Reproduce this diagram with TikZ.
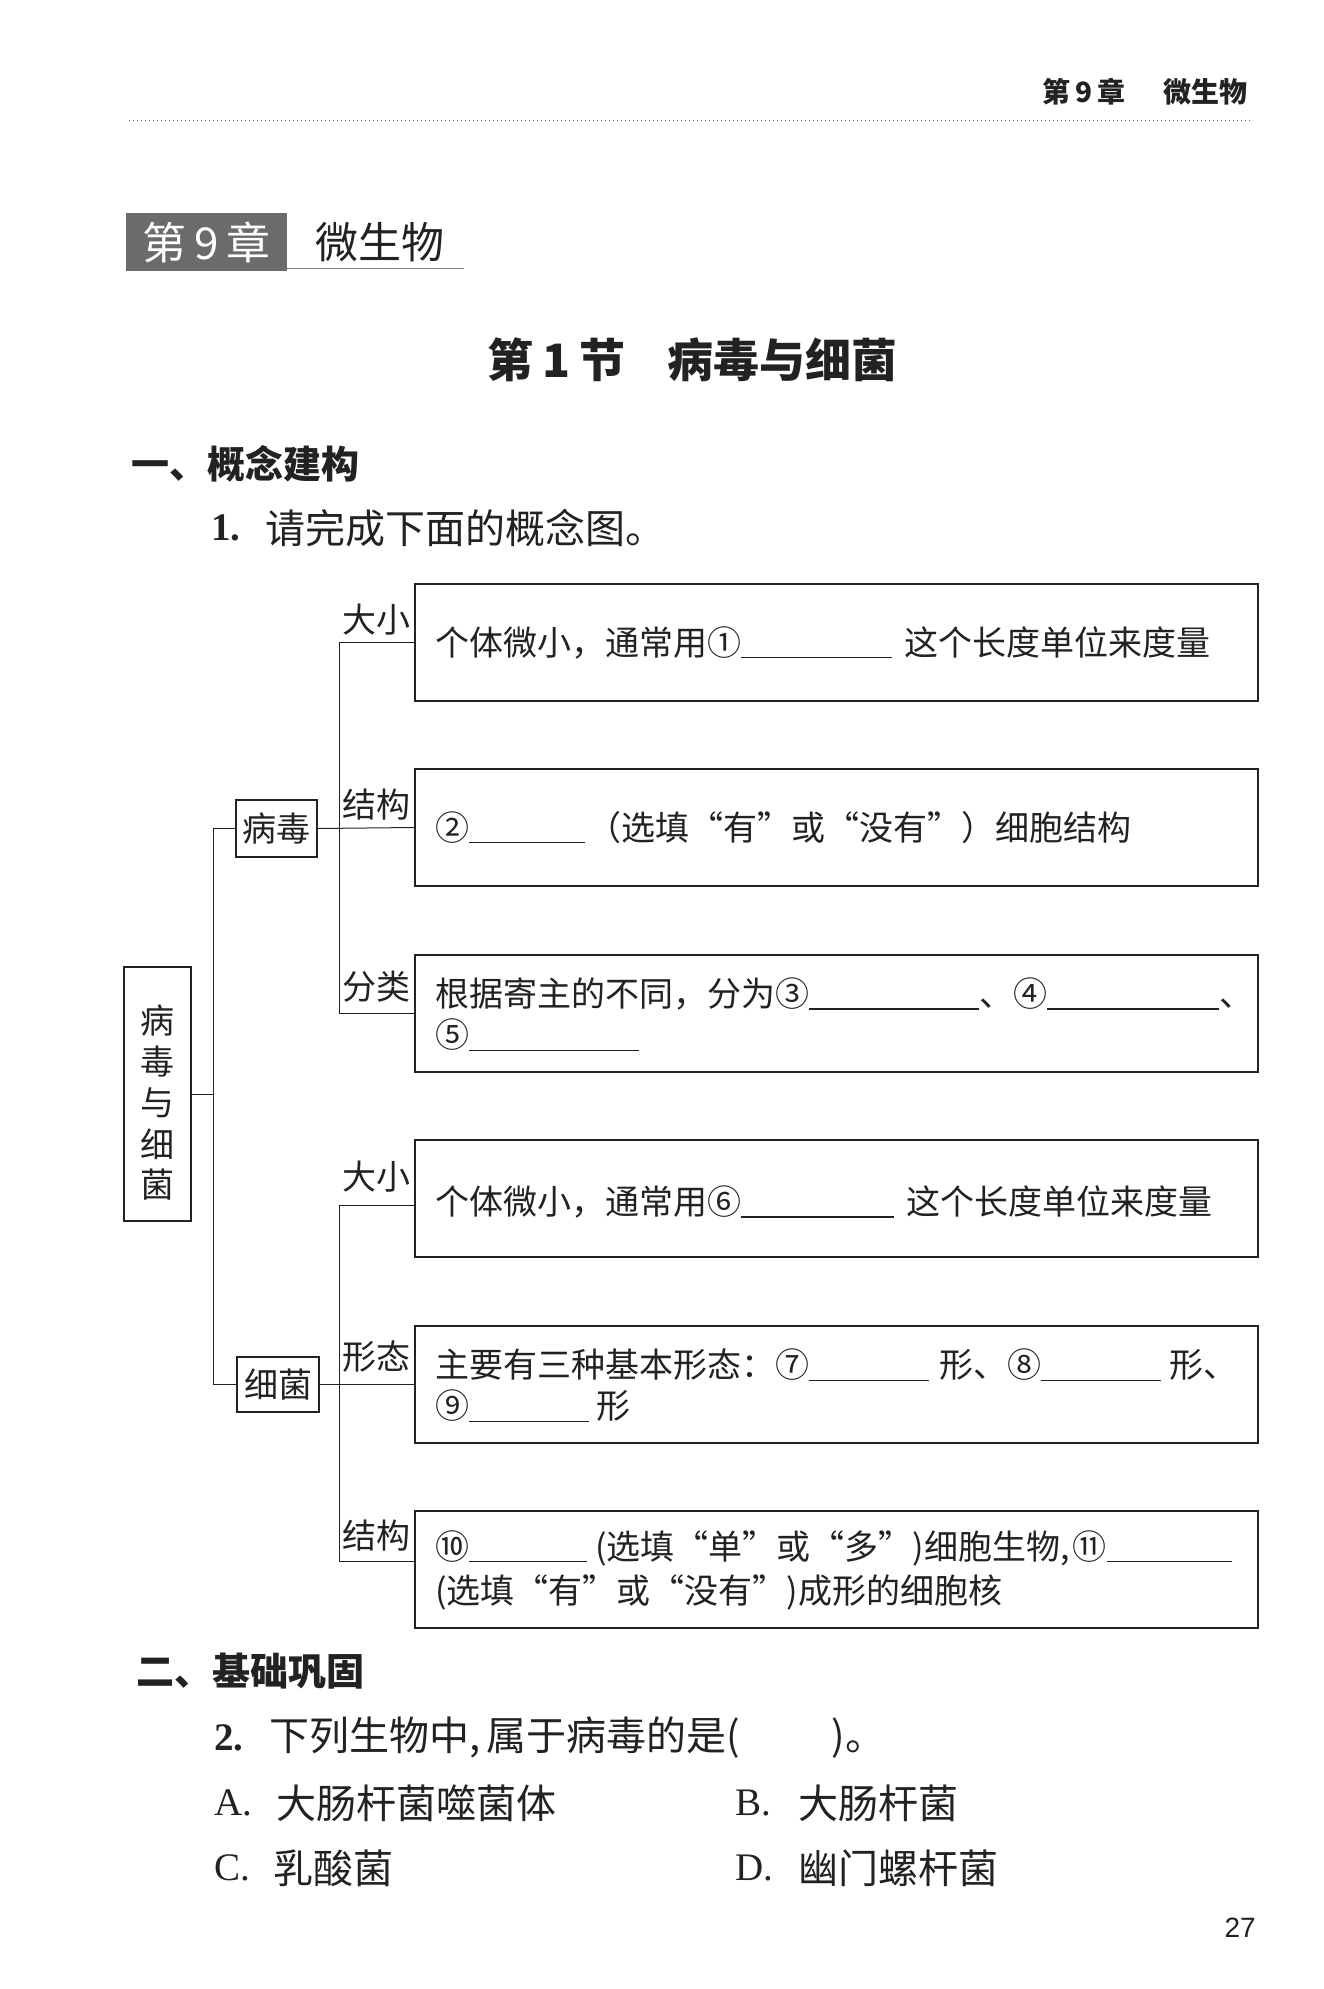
\documentclass[tikz,border=0pt]{standalone}
\usepackage{fontspec}
\setmainfont{Liberation Serif}
\newfontfamily\cjk{Noto Sans CJK SC}
\newfontfamily\numsans{Liberation Sans}
\usetikzlibrary{positioning,calc}
\definecolor{ink}{HTML}{222222}
\definecolor{chapgray}{HTML}{6B6B6B}
\newcommand{\fillin}[1]{\rule[-3pt]{#1pt}{1.2pt}}
\newcommand{\fs}[1]{\fontsize{#1}{#1}\selectfont}

\begin{document}
\begin{tikzpicture}[x=1pt,y=-1pt,
  fillbox/.style={draw=ink,line width=1.6pt,minimum width=843pt,minimum height=117pt,inner sep=0pt},
  catbox/.style={draw=ink,line width=1.4pt,inner sep=0pt,text=ink,font=\cjk\fs{34}},
  boxtxt/.style={anchor=west,inner sep=0pt,text=ink,font=\cjk\fs{34}},
  branchlab/.style={anchor=south east,inner sep=0pt,text=ink,font=\cjk\fs{34}},
  link/.style={draw=ink,line width=1pt},
  heading/.style={anchor=west,inner sep=0pt,text=ink,font=\cjk\bfseries\fs{38}},
  qnum/.style={anchor=west,inner sep=0pt,text=ink,font=\bfseries\fs{39}},
  qtxt/.style={anchor=west,inner sep=0pt,text=ink,font=\cjk\fs{40}},
  optlet/.style={anchor=west,inner sep=0pt,text=ink,font=\fs{39}}]
  \fill[white] (0,0) rectangle (1323,1989);
  \useasboundingbox (0,0) rectangle (1323,1989);

  % page head
  \node[anchor=east,inner sep=0pt,text=ink,font=\cjk\bfseries\fs{28}] (runhead) at (1248,92) {第\hspace{5pt}9\hspace{5pt}章\hspace{38pt}微生物};
  \draw[ink!70,line width=1pt,dash pattern=on 1pt off 3pt] (129,120) -- (1252,120);
  \node[fill=chapgray,minimum width=161pt,minimum height=58pt,inner sep=0pt,text=white,font=\cjk\fs{44}] (chap) at (206.5,242) {第\hspace{8pt}9\hspace{8pt}章};
  \node[anchor=west,inner sep=0pt,text=ink,font=\cjk\fs{43}] (chapname) at (315,242) {微生物};
  \draw[ink!60,line width=1.2pt] ([yshift=3pt]chap.south east) -- ++(177,0);
  \node[anchor=west,inner sep=0pt,text=ink,font=\cjk\bfseries\fs{46}] (title) at (487,360) {第\hspace{9pt}1\hspace{9pt}节\hspace{42pt}病毒与细菌};

  \node[heading] (sec1) at (131,464) {一、概念建构};
  \node[qnum] (q1num) at (211,528) {1.};
  \node[qtxt] (q1) at (265,528) {请完成下面的概念图。};

  % concept map
  \node[catbox,minimum width=67pt,minimum height=254pt] (root) at (157.5,1094) {};
  \foreach \c [count=\i] in {病,毒,与,细,菌}
    \node[boxtxt,anchor=center] at (157.5,980+41*\i) {\c};
  \node[catbox,minimum width=81pt,minimum height=57pt] (virus) at (276.5,828.5) {病毒};
  \node[catbox,minimum width=82pt,minimum height=55pt] (bact) at (278,1384.5) {细菌};

  \node[fillbox] (vsize) at (836.5,642.5) {};
  \node[fillbox] (vstruct) at (836.5,827.5) {};
  \node[fillbox] (vclass) at (836.5,1013.5) {};
  \node[fillbox] (bsize) at (836.5,1198.5) {};
  \node[fillbox] (bshape) at (836.5,1384.5) {};
  \node[fillbox] (bstruct) at (836.5,1569.5) {};

  \coordinate (j0) at ([xshift=22pt]root.east);
  \coordinate (j1) at ([xshift=22pt]virus.east);
  \coordinate (j2) at ([xshift=20pt]bact.east);
  \draw[link] (root.east) -- (j0);
  \draw[link] (virus.west) -| (j0) |- (bact.west);
  \draw[link] (virus.east) -- (vstruct.west);
  \draw[link] (vsize.west) -| (j1) |- (vclass.west);
  \draw[link] (bact.east) -- (bshape.west);
  \draw[link] ([yshift=-6.5pt]bsize.west) -| (j2) |- ([yshift=8.5pt]bstruct.west);

  \node[branchlab] at ([xshift=-4pt,yshift=7.5pt]vsize.west) {大小};
  \node[branchlab] at ([xshift=-4pt,yshift=7.5pt]vstruct.west) {结构};
  \node[branchlab] at ([xshift=-4pt,yshift=10.5pt]vclass.west) {分类};
  \node[branchlab] at ([xshift=-4pt,yshift=6.5pt]bsize.west) {大小};
  \node[branchlab] at ([xshift=-4pt,yshift=11.5pt]bshape.west) {形态};
  \node[branchlab] at ([xshift=-4pt,yshift=18.5pt]bstruct.west) {结构};

  \node[boxtxt] at ([xshift=21pt]vsize.west) {个体微小，通常用①\fillin{151}\hspace{12pt}这个长度单位来度量};
  \node[boxtxt] at ([xshift=21pt]vstruct.west) {②\fillin{116}\hspace{2pt}（选填“有”或“没有”）细胞结构};
  \node[boxtxt] at ([xshift=21pt,yshift=19.5pt]vclass.west) {根据寄主的不同，分为③\fillin{170}、④\fillin{172}、};
  \node[boxtxt] at ([xshift=21pt,yshift=-21.5pt]vclass.west) {⑤\fillin{170}};
  \node[boxtxt] at ([xshift=21pt,yshift=-3.5pt]bsize.west) {个体微小，通常用⑥\fillin{153}\hspace{12pt}这个长度单位来度量};
  \node[boxtxt] at ([xshift=21pt,yshift=19.5pt]bshape.west) {主要有三种基本形态：⑦\fillin{120}\hspace{10pt}形、⑧\fillin{120}\hspace{8pt}形、};
  \node[boxtxt] at ([xshift=21pt,yshift=-21.5pt]bshape.west) {⑨\fillin{120}\hspace{7pt}形};
  \node[boxtxt] at ([xshift=21pt,yshift=21.5pt]bstruct.west) {⑩\fillin{118}\hspace{8pt}(选填“单”或“多”)细胞生物,\hspace{3pt}⑪\fillin{125}};
  \node[boxtxt] at ([xshift=21pt,yshift=-22.5pt]bstruct.west) {(选填“有”或“没有”)成形的细胞核};

  % exercises
  \node[heading] (sec2) at (136,1671) {二、基础巩固};
  \node[qnum] (q2num) at (214,1738) {2.};
  \node[qtxt] (q2) at (269,1738) {下列生物中,\hspace{6pt}属于病毒的是(\hspace{92pt})。};
  \node[optlet] (oa) at (214,1803) {A.};
  \node[qtxt] (ta) at (276,1803) {大肠杆菌噬菌体};
  \node[optlet] (ob) at (735,1803) {B.};
  \node[qtxt] (tb) at (798,1803) {大肠杆菌};
  \node[optlet] (oc) at (214,1868) {C.};
  \node[qtxt] (tc) at (273,1868) {乳酸菌};
  \node[optlet] (od) at (735,1868) {D.};
  \node[qtxt] (td) at (798,1868) {幽门螺杆菌};
  \node[anchor=east,inner sep=0pt,text=ink,font=\numsans\fs{28}] (pg) at (1256,1928) {27};
\end{tikzpicture}
\end{document}
